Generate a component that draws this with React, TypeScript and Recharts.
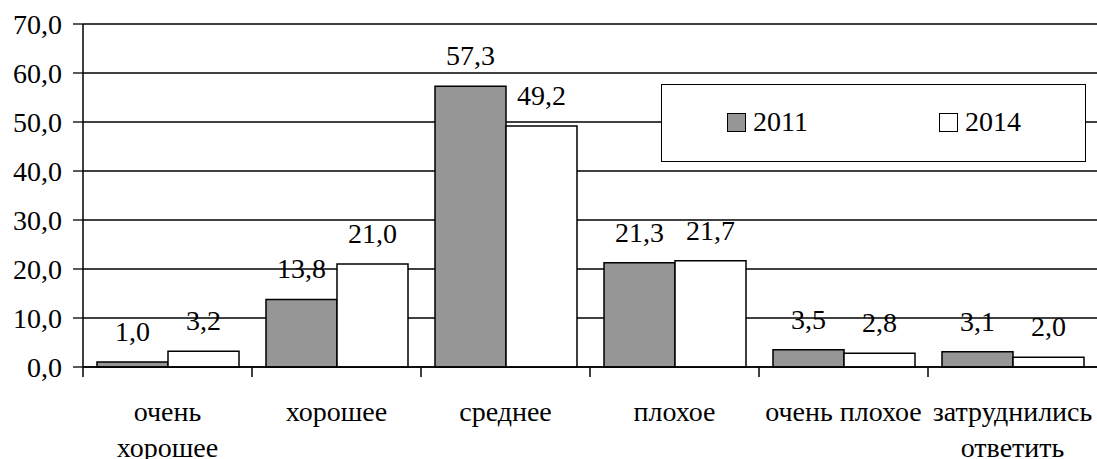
import { BarChart, Bar, XAxis, YAxis, CartesianGrid, LabelList } from 'recharts';

// подписи категорий (по строкам, как в исходнике)
const categoryLines = [
  ['очень', 'хорошее'],
  ['хорошее'],
  ['среднее'],
  ['плохое'],
  ['очень плохое'],
  ['затруднились', 'ответить'],
];
const values2011 = [1.0, 13.8, 57.3, 21.3, 3.5, 3.1];
const values2014 = [3.2, 21.0, 49.2, 21.7, 2.8, 2.0];
const seriesNames = ['2011', '2014'];
const yTicks = [0, 10, 20, 30, 40, 50, 60, 70];

const data = categoryLines.map((lines, i) => ({
  name: lines.join(' '),
  y2011: values2011[i],
  y2014: values2014[i],
}));

const W = 1097;
const H = 459;
const LEFT = 83;
const FONT = '"Liberation Serif", Tinos, monospace';
const GREY = '#969696';

const fmt = (v: number) => v.toFixed(1).replace('.', ',');

const CategoryTick = (props: any) => {
  const { x, y, index } = props;
  const band = (W - LEFT) / categoryLines.length;
  const lines = categoryLines[index] || [];
  const bx = x - band / 2;
  return (
    <g>
      <line x1={bx} y1={y} x2={bx} y2={y + 10} stroke="#000" strokeWidth={1.5} />
      <text x={x} y={y} textAnchor="middle" fill="#000" style={{ fontFamily: FONT, fontSize: 28 }}>
        {lines.map((l, i) => (
          <tspan key={i} x={x} dy={i === 0 ? 54 : 36}>
            {l}
          </tspan>
        ))}
      </text>
    </g>
  );
};

const LegendBox = () => (
  <div
    style={{
      position: 'absolute',
      left: 661,
      top: 84,
      width: 425,
      height: 78,
      boxSizing: 'border-box',
      border: '1.5px solid #000',
      background: '#fff',
      color: '#000',
    }}
  >
    {seriesNames.map((n, i) => (
      <div
        key={n}
        style={{
          position: 'absolute',
          left: i === 0 ? 65 : 277,
          top: 20,
          height: 34,
          lineHeight: '34px',
          fontFamily: FONT,
          fontSize: 28,
          whiteSpace: 'nowrap',
        }}
      >
        <span
          style={{
            display: 'inline-block',
            width: 19,
            height: 19,
            boxSizing: 'border-box',
            border: '1.5px solid #000',
            background: i === 0 ? GREY : '#fff',
            marginRight: 7,
            verticalAlign: -1,
          }}
        />
        {n}
      </div>
    ))}
  </div>
);

export default function App() {
  return (
    <div style={{ position: 'absolute', left: 0, top: 0, width: W, height: H, background: '#fff', fontFamily: FONT }}>
      <BarChart
        width={W}
        height={H}
        data={data}
        margin={{ top: 24, right: 0, bottom: 0, left: 0 }}
        barCategoryGap={14}
        barGap={0}
      >
        <CartesianGrid vertical={false} stroke="#000" strokeWidth={1.3} />
        <XAxis
          dataKey="name"
          height={92}
          interval={0}
          tickLine={false}
          tickSize={0}
          tickMargin={0}
          axisLine={{ stroke: '#000', strokeWidth: 1.5 }}
          tick={<CategoryTick />}
        />
        <YAxis
          width={LEFT}
          domain={[0, 70]}
          ticks={yTicks}
          tickFormatter={fmt}
          tickSize={10}
          tickMargin={11}
          axisLine={{ stroke: '#000', strokeWidth: 1.5 }}
          tickLine={{ stroke: '#000', strokeWidth: 1.3 }}
          tick={{ fill: '#000', style: { fontFamily: FONT, fontSize: 28 } }}
        />
        <Bar dataKey="y2011" name={seriesNames[0]} fill={GREY} stroke="#000" strokeWidth={1.5} isAnimationActive={false}>
          <LabelList dataKey="y2011" position="top" offset={21} formatter={fmt} fill="#000" style={{ fontFamily: FONT, fontSize: 28 }} />
        </Bar>
        <Bar dataKey="y2014" name={seriesNames[1]} fill="#fff" stroke="#000" strokeWidth={1.5} isAnimationActive={false}>
          <LabelList dataKey="y2014" position="top" offset={21} formatter={fmt} fill="#000" style={{ fontFamily: FONT, fontSize: 28 }} />
        </Bar>
      </BarChart>
      <LegendBox />
    </div>
  );
}
